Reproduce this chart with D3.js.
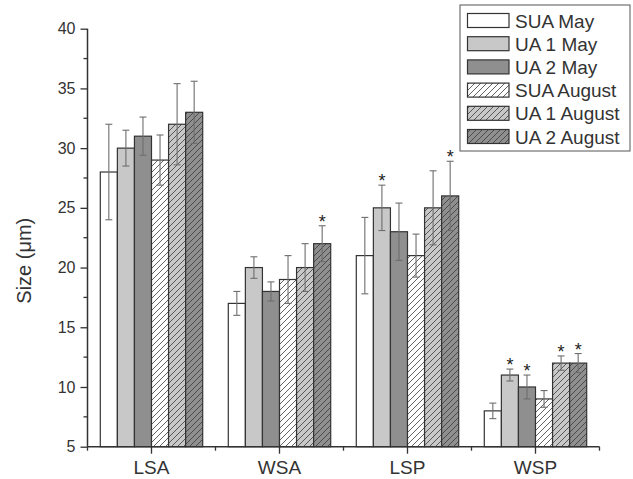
<!DOCTYPE html>
<html>
<head>
<meta charset="utf-8">
<script src="https://cdn.jsdelivr.net/npm/d3@7"></script>
<style>
  body { margin: 0; background: #fff; }
  svg { display: block; font-family: "Liberation Sans", Arial, sans-serif; }
</style>
</head>
<body>
<svg id="chart" width="633" height="479"></svg>
<script>
const categories = ["LSA", "WSA", "LSP", "WSP"];
const seriesNames = ["SUA May", "UA 1 May", "UA 2 May", "SUA August", "UA 1 August", "UA 2 August"];
const sUAMay      = [28, 17, 21, 8];
const uA1May      = [30, 20, 25, 11];
const uA2May      = [31, 18, 23, 10];
const sUAAugust   = [29, 19, 21, 9];
const uA1August   = [32, 20, 25, 12];
const uA2August   = [33, 22, 26, 12];
const errSUAMay    = [4, 1, 3.2, 0.65];
const errUA1May    = [1.5, 0.9, 1.9, 0.5];
const errUA2May    = [1.6, 0.8, 2.4, 1.0];
const errSUAAugust = [2.1, 2, 1.8, 0.7];
const errUA1August = [3.4, 2, 3.1, 0.6];
const errUA2August = [2.6, 1.5, 2.9, 0.8];
const starSUAMay    = [false, false, false, false];
const starUA1May    = [false, false, true, true];
const starUA2May    = [false, false, false, true];
const starSUAAugust = [false, false, false, false];
const starUA1August = [false, false, false, true];
const starUA2August = [false, true, true, true];
const yTicks = [5, 10, 15, 20, 25, 30, 35, 40];

(function () {
const values = [sUAMay, uA1May, uA2May, sUAAugust, uA1August, uA2August];
const errors = [errSUAMay, errUA1May, errUA2May, errSUAAugust, errUA1August, errUA2August];
const stars = [starSUAMay, starUA1May, starUA2May, starSUAAugust, starUA1August, starUA2August];

const fills = ["#ffffff", "#c8c8c8", "#8f8f8f", "#ffffff", "#c8c8c8", "#8f8f8f"];
const hatched = [false, false, false, true, true, true];

const svg = d3.select("#chart");
const pLeft = 87.5, pRight = 599.5, pTop = 28.7, pBottom = 446.7;

const x = d3.scaleBand().domain(categories).range([pLeft, pRight]).paddingInner(0.2).paddingOuter(0.1);
const xs = d3.scaleBand().domain(seriesNames).range([0, x.bandwidth()]).padding(0);
const y = d3.scaleLinear().domain([5, 40]).range([pBottom, pTop]);

// hatch patterns
const defs = svg.append("defs");
fills.forEach((f, i) => {
  if (!hatched[i]) return;
  const p = defs.append("pattern")
    .attr("id", "hatch" + i)
    .attr("patternUnits", "userSpaceOnUse")
    .attr("width", 6).attr("height", 6);
  p.append("rect").attr("width", 6).attr("height", 6).attr("fill", f);
  p.append("path").attr("d", "M-1,7 L7,-1 M-4,4 L4,-4 M2,10 L10,2")
    .attr("stroke", "#3a3a3a").attr("stroke-width", 0.8);
});
const fillOf = i => hatched[i] ? `url(#hatch${i})` : fills[i];

// bars
const barData = [];
categories.forEach((c, ci) => {
  seriesNames.forEach((s, si) => {
    barData.push({ c, s, si, v: values[si][ci], e: errors[si][ci], star: stars[si][ci] });
  });
});

svg.append("g").selectAll("rect").data(barData).join("rect")
  .attr("x", d => x(d.c) + xs(d.s))
  .attr("y", d => y(d.v))
  .attr("width", xs.bandwidth())
  .attr("height", d => y(5) - y(d.v))
  .attr("fill", d => fillOf(d.si))
  .attr("stroke", "#333")
  .attr("stroke-width", 1.2);

// error bars
const eg = svg.append("g").attr("stroke", "#6e6e6e").attr("stroke-width", 1.1).attr("fill", "none");
barData.forEach(d => {
  const cx = x(d.c) + xs(d.s) + xs.bandwidth() / 2;
  const y1 = y(d.v + d.e), y2 = y(d.v - d.e);
  eg.append("line").attr("x1", cx).attr("x2", cx).attr("y1", y1).attr("y2", y2);
  eg.append("line").attr("x1", cx - 3.5).attr("x2", cx + 3.5).attr("y1", y1).attr("y2", y1);
  eg.append("line").attr("x1", cx - 3.5).attr("x2", cx + 3.5).attr("y1", y2).attr("y2", y2);
});

// stars
svg.append("g").selectAll("text").data(barData.filter(d => d.star)).join("text")
  .attr("x", d => x(d.c) + xs(d.s) + xs.bandwidth() / 2)
  .attr("y", d => y(d.v + d.e) + 2)
  .attr("text-anchor", "middle")
  .attr("font-size", 18)
  .attr("fill", "#222")
  .text("*");

// y axis
const yAxis = d3.axisLeft(y).tickValues(yTicks).tickSize(7).tickPadding(5).tickFormat(d3.format("d"));
const gy = svg.append("g").attr("transform", `translate(${pLeft},0)`).call(yAxis);
gy.select(".domain").attr("stroke", "#333").attr("stroke-width", 1.5).attr("d", `M0,${pBottom}V${pTop}`);
gy.selectAll(".tick line").attr("stroke", "#333").attr("stroke-width", 1.3);
gy.selectAll(".tick text").attr("font-size", 16).attr("fill", "#333").attr("font-family", "Liberation Sans, Arial, sans-serif");
// minor y ticks
const minorY = d3.range(7.5, 40, 5);
gy.selectAll(".minor").data(minorY).join("line").attr("class", "minor")
  .attr("x1", -4).attr("x2", 0).attr("y1", d => y(d)).attr("y2", d => y(d))
  .attr("stroke", "#333").attr("stroke-width", 1.3);

// x axis
const xAxis = d3.axisBottom(x).tickSize(7).tickPadding(7).tickSizeOuter(0);
const gx = svg.append("g").attr("transform", `translate(0,${pBottom})`).call(xAxis);
gx.select(".domain").attr("stroke", "#333").attr("stroke-width", 1.5).attr("d", `M${pLeft},0H${pRight}`);
gx.selectAll(".tick line").attr("stroke", "#333").attr("stroke-width", 1.3);
gx.selectAll(".tick text").attr("font-size", 19).attr("fill", "#333").attr("font-family", "Liberation Sans, Arial, sans-serif");
// minor x ticks at group boundaries
const boundaries = d3.range(0, categories.length + 1).map(i => pLeft + x.step() * x.paddingOuter() - x.step() * x.paddingInner() / 2 + i * x.step());
gx.selectAll(".minor").data(boundaries).join("line").attr("class", "minor")
  .attr("x1", d => d).attr("x2", d => d).attr("y1", 0).attr("y2", 4)
  .attr("stroke", "#333").attr("stroke-width", 1.3);

// y label
svg.append("text")
  .attr("transform", `translate(31,${(pTop + pBottom) / 2 + 23}) rotate(-90)`)
  .attr("text-anchor", "middle")
  .attr("font-size", 20)
  .attr("fill", "#333")
  .text("Size (\u03bcm)");

// legend
const lg = svg.append("g");
lg.append("rect").attr("x", 460).attr("y", 5).attr("width", 170).attr("height", 146)
  .attr("fill", "#fff").attr("stroke", "#555").attr("stroke-width", 1);
seriesNames.forEach((s, i) => {
  const ty = 13.5 + i * 23.2;
  lg.append("rect").attr("x", 467.5).attr("y", ty).attr("width", 41.5).attr("height", 14)
    .attr("fill", fillOf(i)).attr("stroke", "#333").attr("stroke-width", 1.2);
  lg.append("text").attr("x", 515).attr("y", ty + 14).attr("font-size", 19).attr("fill", "#333").text(s);
});
})();
</script>
</body>
</html>
